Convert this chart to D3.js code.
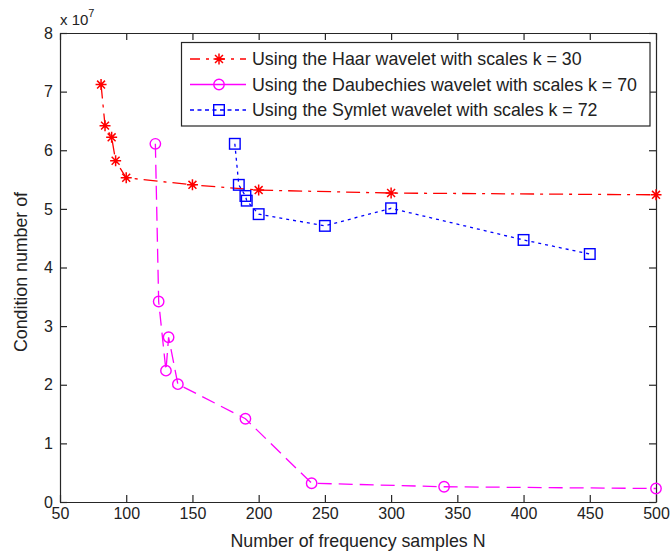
<!DOCTYPE html>
<html>
<head>
<meta charset="utf-8">
<script src="https://cdn.jsdelivr.net/npm/d3@7"></script>
<style>
  html, body { margin: 0; padding: 0; background: #fff; }
  svg { display: block; font-family: Arial, "Liberation Sans", Helvetica, sans-serif; }
</style>
</head>
<body>
<svg id="chart" width="670" height="554"></svg>
<script>
// ---- data (condition numbers) ----
const haarN = [81, 84, 89, 92, 100, 150, 200, 300, 500];
const haarV = [7.12e7, 6.42e7, 6.22e7, 5.82e7, 5.53e7, 5.41e7, 5.32e7, 5.27e7, 5.24e7];

const daubN = [122, 124.5, 130, 132, 139, 190, 240, 340, 500];
const daubV = [6.11e7, 3.42e7, 2.24e7, 2.81e7, 2.01e7, 1.42e7, 0.32e7, 0.26e7, 0.23e7];

const symN = [182, 185, 190, 191, 200, 250, 300, 400, 450];
const symV = [6.11e7, 5.41e7, 5.22e7, 5.14e7, 4.91e7, 4.71e7, 5.01e7, 4.47e7, 4.23e7];

const xTicks = [50, 100, 150, 200, 250, 300, 350, 400, 450, 500];
const yTicks = [0, 1e7, 2e7, 3e7, 4e7, 5e7, 6e7, 7e7, 8e7];

const seriesNames = [
  "Using the Haar wavelet with scales k = 30",
  "Using the Daubechies wavelet with scales k = 70",
  "Using the Symlet wavelet with scales k = 72"
];
const xLabel = "Number of frequency samples N";
const yLabel = "Condition number of";

// ---- layout ----
const L = 60, R = 656, T = 33, B = 502;
const svg = d3.select("#chart");
const x = d3.scaleLinear().domain([50, 500]).range([L, R]);
const y = d3.scaleLinear().domain([0, 8e7]).range([B, T]);

const series = [
  { n: haarN, v: haarV, color: "#ff0000", dash: "14,6,3,6", marker: "star", name: seriesNames[0] },
  { n: daubN, v: daubV, color: "#ff00ff", dash: "14,7", marker: "circle", name: seriesNames[1] },
  { n: symN,  v: symV,  color: "#0000ff", dash: "3,4", marker: "square", name: seriesNames[2] }
];

// axes box
const axColor = "#262626";
const fmt = d => d3.format("d")(d / 1e7);

const gx = svg.append("g").attr("transform", `translate(0,${B})`)
  .call(d3.axisBottom(x).tickValues(xTicks).tickSizeInner(-7).tickSizeOuter(0).tickPadding(6).tickFormat(d3.format("d")));
const gxt = svg.append("g").attr("transform", `translate(0,${T})`)
  .call(d3.axisTop(x).tickValues(xTicks).tickSizeInner(-7).tickSizeOuter(0).tickFormat(""));
const gy = svg.append("g").attr("transform", `translate(${L},0)`)
  .call(d3.axisLeft(y).tickValues(yTicks).tickSizeInner(-7).tickSizeOuter(0).tickPadding(7).tickFormat(fmt));
const gyr = svg.append("g").attr("transform", `translate(${R},0)`)
  .call(d3.axisRight(y).tickValues(yTicks).tickSizeInner(-7).tickSizeOuter(0).tickFormat(""));

[gx, gxt, gy, gyr].forEach(g => {
  g.selectAll("path.domain").attr("stroke", axColor).attr("stroke-width", 1.2);
  g.selectAll(".tick line").attr("stroke", axColor).attr("stroke-width", 1.2);
  g.selectAll(".tick text").attr("fill", "#222").style("font-size", "16px")
    .style("font-family", 'Arial, "Liberation Sans", sans-serif');
});

// exponent label
const expo = svg.append("text").attr("x", 60).attr("y", 25).attr("fill", "#222")
  .style("font-size", "15px");
expo.append("tspan").text("x 10");
expo.append("tspan").attr("dy", -8).style("font-size", "11px").text("7");

// axis labels
svg.append("text").attr("x", (L + R) / 2).attr("y", 547).attr("text-anchor", "middle")
  .attr("fill", "#222").style("font-size", "17.8px").text(xLabel);
svg.append("text").attr("transform", `translate(27,272) rotate(-90)`).attr("text-anchor", "middle")
  .attr("fill", "#222").style("font-size", "17.8px").text(yLabel);

// markers
function drawMarker(g, type, cx, cy, color) {
  if (type === "star") {
    const r = 5.5, d = r * 0.72;
    g.append("path")
      .attr("d", `M${cx - r},${cy}h${2 * r}M${cx},${cy - r}v${2 * r}M${cx - d},${cy - d}l${2 * d},${2 * d}M${cx - d},${cy + d}l${2 * d},${-2 * d}`)
      .attr("stroke", color).attr("stroke-width", 1.5).attr("fill", "none");
  } else if (type === "circle") {
    g.append("circle").attr("cx", cx).attr("cy", cy).attr("r", 5.2)
      .attr("fill", "none").attr("stroke", color).attr("stroke-width", 1.4);
  } else {
    g.append("rect").attr("x", cx - 5.3).attr("y", cy - 5.3).attr("width", 10.6).attr("height", 10.6)
      .attr("fill", "none").attr("stroke", color).attr("stroke-width", 1.4);
  }
}

const line = d3.line().x(d => x(d[0])).y(d => y(d[1]));
const plot = svg.append("g");
series.forEach(s => {
  const pts = s.n.map((n, i) => [n, s.v[i]]);
  plot.append("path").datum(pts).attr("d", line)
    .attr("fill", "none").attr("stroke", s.color).attr("stroke-width", 1.3)
    .attr("stroke-dasharray", s.dash);
  const mg = plot.append("g");
  pts.forEach(p => drawMarker(mg, s.marker, x(p[0]), y(p[1]), s.color));
});

// legend
const lg = svg.append("g");
lg.append("rect").attr("x", 181.5).attr("y", 42.5).attr("width", 468.5).attr("height", 83.5)
  .attr("fill", "#fff").attr("stroke", axColor).attr("stroke-width", 1.2);
const rowY = [59, 84.5, 110];
series.forEach((s, i) => {
  lg.append("line").attr("x1", 190).attr("x2", 246).attr("y1", rowY[i]).attr("y2", rowY[i])
    .attr("stroke", s.color).attr("stroke-width", 1.3)
    .attr("stroke-dasharray", i === 0 ? "10,6,3,6" : (i === 1 ? null : "4,3.5"));
  drawMarker(lg, s.marker, 219, rowY[i], s.color);
  lg.append("text").attr("x", 252).attr("y", rowY[i]).attr("dy", "0.36em")
    .attr("fill", "#222").style("font-size", "17.8px").text(s.name);
});
</script>
</body>
</html>
